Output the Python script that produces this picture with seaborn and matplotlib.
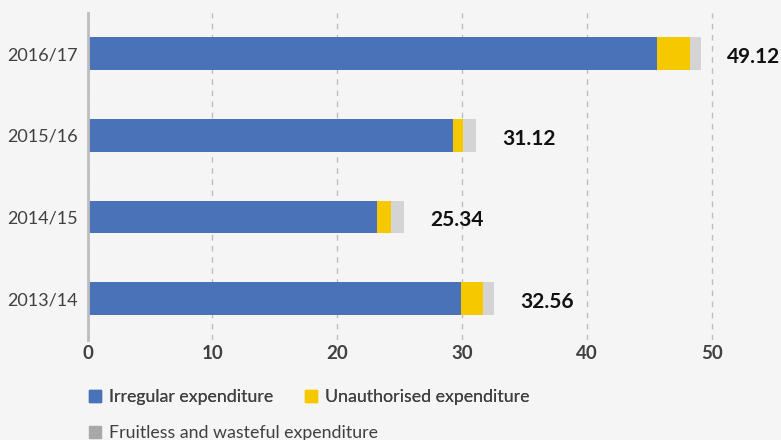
import matplotlib
matplotlib.use("Agg")
import matplotlib.pyplot as plt
from matplotlib.patches import Patch
import seaborn as sns
import pandas as pd
import numpy as np

# values in R billion
years = ["2016/17", "2015/16", "2014/15", "2013/14"]
irregular = [45.56, 29.30, 23.20, 29.90]
unauthorised = [2.65, 0.80, 1.10, 1.80]
fruitless = [0.91, 1.02, 1.04, 0.86]
totals = ["49.12", "31.12", "25.34", "32.56"]

BLUE = "#4a72b8"
YELLOW = "#f5c800"
GREY_BAR = "#d4d4d4"
GREY_KEY = "#a8a8a8"
BG = "#f5f5f5"

sns.set_style("white")
plt.rcParams["font.family"] = ["Lato", "DejaVu Sans"]

df = pd.DataFrame({
    "year": years,
    "irregular": irregular,
    "unauthorised": unauthorised,
    "fruitless": fruitless,
})
df["upto_unauth"] = df["irregular"] + df["unauthorised"]
df["total"] = df["upto_unauth"] + df["fruitless"]

fig = plt.figure(figsize=(7.81, 4.40), dpi=100, facecolor=BG)
ax = fig.add_axes([87.5 / 781, 1 - 339.5 / 440, (774.5 - 87.5) / 781, (339.5 - 12.7) / 440])
ax.set_facecolor(BG)

# stacked by layering cumulative sums
bar_kw = dict(orient="h", width=0.4, saturation=1, ax=ax, linewidth=0, edgecolor="none")
sns.barplot(data=df, x="total", y="year", color=GREY_BAR, zorder=3, **bar_kw)
sns.barplot(data=df, x="upto_unauth", y="year", color=YELLOW, zorder=4, **bar_kw)
sns.barplot(data=df, x="irregular", y="year", color=BLUE, zorder=5, **bar_kw)

for i, (t, lab) in enumerate(zip(df["total"], totals)):
    ax.text(t + 2.1, i + 0.04, lab, va="center", ha="left", fontsize=15,
            fontweight="bold", color="#111111", clip_on=False)

ax.set_xlim(0, 55)
ax.set_ylim(3.5, -0.5)
ax.set_xticks([0, 10, 20, 30, 40, 50])
ax.set_xlabel("")
ax.set_ylabel("")
ax.grid(axis="x", color="#bdbdbd", linestyle=(0, (4, 4)), linewidth=1, zorder=1)
ax.grid(axis="y", visible=False)
for s in ["top", "right", "bottom"]:
    ax.spines[s].set_visible(False)
ax.spines["left"].set_color("#bdbdbd")
ax.spines["left"].set_linewidth(2)
ax.spines["left"].set_zorder(6)
ax.tick_params(axis="x", length=0, pad=4, labelsize=13.5, labelcolor="#404040")
ax.tick_params(axis="y", length=0, pad=7, labelsize=13, labelcolor="#404040")
for lbl in ax.get_xticklabels():
    lbl.set_fontweight("bold")

leg_kw = dict(frameon=False, fontsize=12.8, labelcolor="#404040", handlelength=0.68,
              handleheight=0.68, handletextpad=0.45, borderaxespad=0, borderpad=0)
top_row = [
    Patch(color=BLUE, label="Irregular expenditure"),
    Patch(color=YELLOW, label="Unauthorised expenditure"),
]
leg1 = fig.legend(handles=top_row, ncol=2, loc="center left",
                  bbox_to_anchor=(89 / 781, 1 - 397 / 440), columnspacing=1.8, **leg_kw)
fig.add_artist(leg1)
fig.legend(handles=[Patch(color=GREY_KEY, label="Fruitless and wasteful expenditure")],
           loc="center left", bbox_to_anchor=(89 / 781, 1 - 433 / 440), **leg_kw)

fig.savefig("out.png", dpi=100, facecolor=BG)
